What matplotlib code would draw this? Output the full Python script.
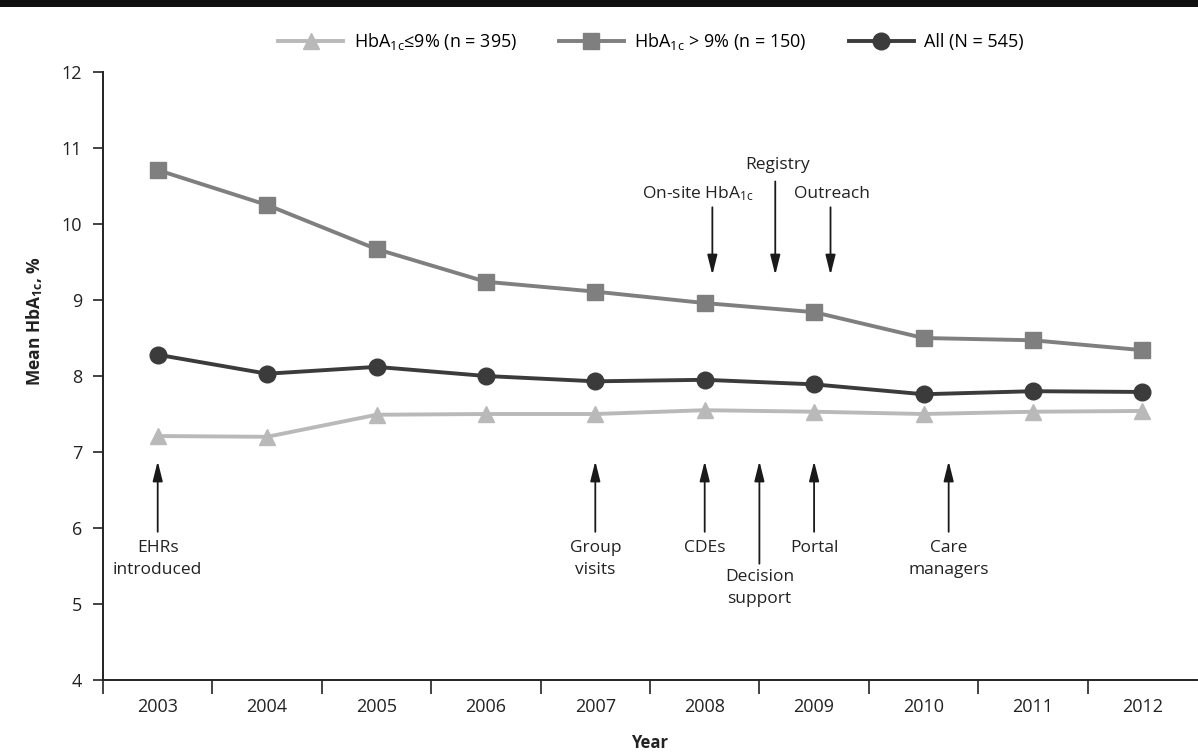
import matplotlib
matplotlib.use("Agg")
import matplotlib.pyplot as plt
from matplotlib.lines import Line2D
from matplotlib.patches import Rectangle

plt.rcParams['font.family'] = ['Open Sans', 'DejaVu Sans']
plt.rcParams['mathtext.fontset'] = 'custom'
plt.rcParams['mathtext.rm'] = 'Open Sans'
plt.rcParams['mathtext.it'] = 'Open Sans:italic'
plt.rcParams['mathtext.bf'] = 'Open Sans:bold'

# ---------------- data ----------------
years = [2003, 2004, 2005, 2006, 2007, 2008, 2009, 2010, 2011, 2012]
low_vals = [7.21, 7.20, 7.49, 7.50, 7.50, 7.55, 7.53, 7.50, 7.53, 7.54]     # HbA1c <= 9%
high_vals = [10.71, 10.25, 9.67, 9.24, 9.11, 8.96, 8.84, 8.50, 8.47, 8.34]  # HbA1c > 9%
all_vals = [8.28, 8.03, 8.12, 8.00, 7.93, 7.95, 7.89, 7.76, 7.80, 7.79]     # All

low_label = r'HbA$_{\mathrm{1c}}$≤9% (n = 395)'
high_label = r'HbA$_{\mathrm{1c}}$ > 9% (n = 150)'
all_label = 'All (N = 545)'

y_ticks = [4, 5, 6, 7, 8, 9, 10, 11, 12]

# annotations below the lines: (label, x, arrow base, text top)
bottom_notes = [
    ('EHRs\nintroduced', 2003.0, 5.95, 5.84),
    ('Group\nvisits', 2007.0, 5.95, 5.84),
    ('CDEs', 2008.0, 5.95, 5.84),
    ('Decision\nsupport', 2008.5, 5.53, 5.46),
    ('Portal', 2009.0, 5.95, 5.84),
    ('Care\nmanagers', 2010.23, 5.95, 5.84),
]
bottom_tip = 6.88

# annotations above the lines: (label, arrow x, text x, arrow base, text center)
top_notes = [
    (r'On-site HbA$_{\mathrm{1c}}$', 2008.07, 2007.94, 10.22, 10.40),
    ('Registry', 2008.645, 2008.67, 10.56, 10.77),
    ('Outreach', 2009.15, 2009.16, 10.22, 10.40),
]
top_tip = 9.33

# ---------------- figure ----------------
fig = plt.figure(figsize=(11.98, 7.53), dpi=100)
ax = fig.add_axes([103 / 1198, 1 - 680 / 753, 1094 / 1198, 608 / 753])

c_low, c_high, c_all = '#b9b9b9', '#7f7f7f', '#3b3b3b'
ax.plot(years, low_vals, color=c_low, lw=2.8, marker='^', ms=11, mec=c_low, mfc=c_low, zorder=3)
ax.plot(years, high_vals, color=c_high, lw=2.8, marker='s', ms=12, mec=c_high, mfc=c_high, zorder=3)
ax.plot(years, all_vals, color=c_all, lw=2.8, marker='o', ms=12, mec=c_all, mfc=c_all, zorder=4)

ax.set_xlim(2002.5, 2012.5)
ax.set_ylim(4, 12)

for s in ['top', 'right']:
    ax.spines[s].set_visible(False)
for s in ['left', 'bottom']:
    ax.spines[s].set_linewidth(1.4)
    ax.spines[s].set_color('#222222')

ax.set_yticks(y_ticks)
ax.set_xticks(years)
ax.set_xticks([y - 0.5 for y in years], minor=True)
ax.tick_params(axis='x', which='major', length=0, pad=13, labelsize=13, colors='#222222')
ax.tick_params(axis='x', which='minor', length=10, width=1.2, color='#222222', direction='out')
ax.tick_params(axis='y', which='major', length=7, width=1.2, pad=8, labelsize=13, colors='#222222')

ax.set_ylabel(r'Mean HbA$_{\mathbf{1c}}$, %', fontweight='bold', fontsize=12.5, color='#222222')
ax.yaxis.set_label_coords(-0.053, 0.59)
ax.set_xlabel('Year', fontweight='bold', fontsize=12, color='#222222')
ax.xaxis.set_label_coords(0.5, -0.089)

arrow_kw = dict(arrowstyle='-|>,head_length=0.8,head_width=0.2', color='#1a1a1a', lw=1.3,
                mutation_scale=15, shrinkA=0, shrinkB=0)
for label, x, base, ttop in bottom_notes:
    ax.annotate('', xy=(x, bottom_tip), xytext=(x, base), arrowprops=arrow_kw)
    ax.text(x, ttop, label, ha='center', va='top', fontsize=12.5, color='#222222', linespacing=1.5)

for label, ax_x, tx, base, tc in top_notes:
    ax.annotate('', xy=(ax_x, top_tip), xytext=(ax_x, base), arrowprops=arrow_kw)
    ax.text(tx, tc, label, ha='center', va='center', fontsize=12.5, color='#222222')

handles = [
    Line2D([], [], color=c_low, lw=2.8, marker='^', ms=11, mec=c_low, mfc=c_low),
    Line2D([], [], color=c_high, lw=2.8, marker='s', ms=12, mec=c_high, mfc=c_high),
    Line2D([], [], color=c_all, lw=2.8, marker='o', ms=12, mec=c_all, mfc=c_all),
]
fig.legend(handles, [low_label, high_label, all_label], loc='center',
           bbox_to_anchor=(651 / 1198, 1 - 42 / 753), ncol=3, frameon=False,
           fontsize=13, handlelength=3.6, handletextpad=0.6, columnspacing=2.3)

fig.add_artist(Rectangle((0, 1 - 7 / 753), 1, 7 / 753, transform=fig.transFigure,
                         color='#111111', lw=0))

fig.savefig('out.png', dpi=100)
